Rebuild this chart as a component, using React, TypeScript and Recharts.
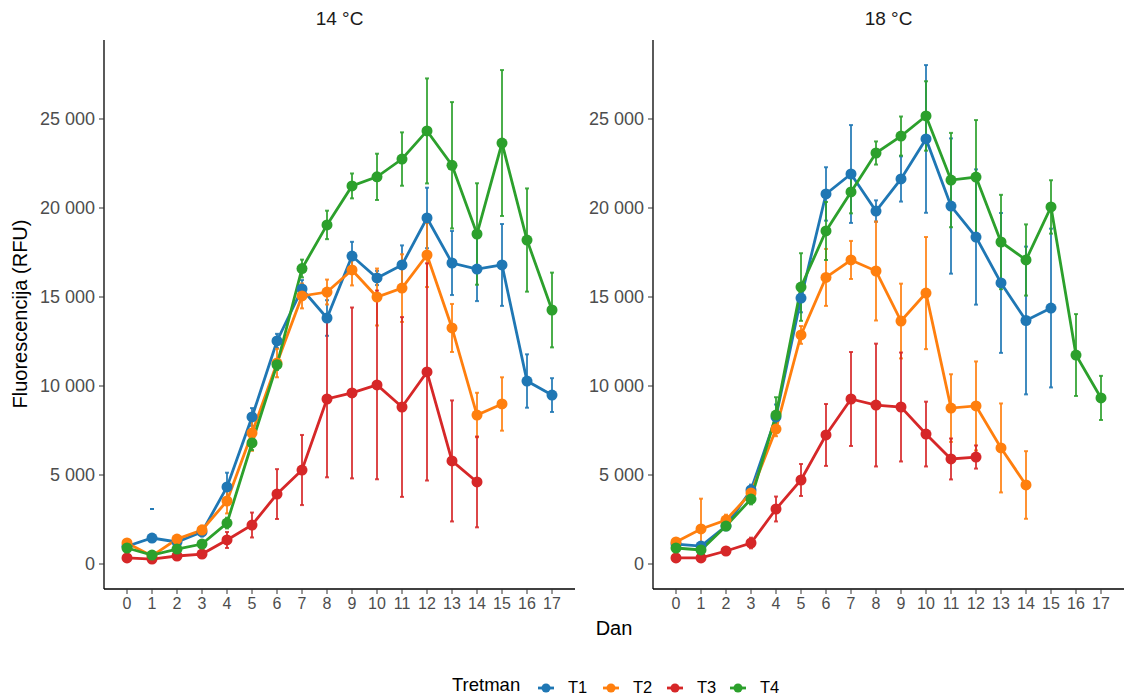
import { ErrorBar, Line, LineChart, XAxis, YAxis } from "recharts";

// Dan (day) 0..17
const days = [0, 1, 2, 3, 4, 5, 6, 7, 8, 9, 10, 11, 12, 13, 14, 15, 16, 17];
const yTicks = [0, 5000, 10000, 15000, 20000, 25000];

type Err = number | [number, number] | null;

// 14 °C
const t1_14 = [1000, 1460, 1240, 1800, 4330, 8260, 12530, 15450, 13820, 17300, 16070, 16800, 19440, 16910, 16570, 16800, 10280, 9490];
const t1e_14: Err[] = [150, [-1630, 1630], 200, 250, 800, 500, 400, 500, 1000, 800, 400, 1100, 1700, 1800, 1800, 2300, 1500, 950];
const t2_14 = [1180, 450, 1400, 1910, 3540, 7360, 11290, 15060, 15280, 16520, 15000, 15500, 17360, 13260, 8370, 8990, null, null];
const t2e_14: Err[] = [150, 100, 200, 250, 700, 1000, 800, 700, 700, 870, 1600, 1900, 1800, 1350, 1250, 1500, null, null];
const t3_14 = [340, 280, 450, 560, 1350, 2190, 3930, 5280, 9270, 9610, 10060, 8820, 10790, 5790, 4610, null, null, null];
const t3e_14: Err[] = [100, 80, 100, 120, 450, 700, 1400, 1970, 4400, 4800, 5300, 5050, 6100, 3400, 2550, null, null, null];
const t4_14 = [900, 500, 840, 1120, 2300, 6800, 11200, 16600, 19050, 21240, 21750, 22750, 24330, 22400, 18540, 23650, 18200, 14270];
const t4e_14: Err[] = [100, 100, 150, 150, 300, 400, 300, 500, 800, 700, 1300, 1500, 2950, 3550, 2850, 4100, 2900, 2100];

// 18 °C
const t1_18 = [1120, 1010, 2130, 4160, 8260, 14940, 20790, 21910, 19830, 21630, 23880, 20110, 18370, 15790, 13680, 14380, null, null];
const t1e_18: Err[] = [150, 150, 200, 300, 700, 800, 1500, 2750, 600, 1270, 4150, 3800, 3800, 3930, 4150, 4460, null, null];
const t2_18 = [1240, 1970, 2470, 3990, 7580, 12870, 16100, 17080, 16460, 13650, 15220, 8760, 8880, 6520, 4440, null, null, null];
const t2e_18: Err[] = [150, 1700, 300, 300, 400, 500, 1600, 1070, 2780, 2100, 3150, 1900, 2500, 2500, 1900, null, null, null];
const t3_18 = [340, 340, 730, 1180, 3090, 4720, 7250, 9270, 8930, 8820, 7300, 5900, 6010, null, null, null, null, null];
const t3e_18: Err[] = [80, 80, 100, 300, 700, 900, 1740, 2640, 3450, 3060, 1820, 1150, 650, null, null, null, null, null];
const t4_18 = [900, 790, 2130, 3650, 8370, 15560, 18710, 20900, 23090, 24040, 25170, 21570, 21740, 18090, 17080, 20060, 11740, 9330];
const t4e_18: Err[] = [100, 100, 200, 300, 1000, 1900, 1630, 1200, 650, 1100, 1950, 2650, 3200, 2650, 2000, 1500, 2300, 1240];

const series = [
  { key: "t1", name: "T1", color: "#1f77b4" },
  { key: "t2", name: "T2", color: "#ff7f0e" },
  { key: "t3", name: "T3", color: "#d62728" },
  { key: "t4", name: "T4", color: "#2ca02c" },
];

const font = "'Liberation Sans', Arial, sans-serif";

function buildRows(vals: (number | null)[][], errs: Err[][]) {
  return days.map((d, i) => {
    const row: Record<string, any> = { day: d };
    series.forEach((s, k) => {
      row[s.key] = vals[k][i];
      row[s.key + "e"] = errs[k][i];
    });
    return row;
  });
}

const rows14 = buildRows([t1_14, t2_14, t3_14, t4_14], [t1e_14, t2e_14, t3e_14, t4e_14]);
const rows18 = buildRows([t1_18, t2_18, t3_18, t4_18], [t1e_18, t2e_18, t3e_18, t4e_18]);

const fmt = (v: number) => String(v).replace(/\B(?=(\d{3})+(?!\d))/g, " ");

function Panel({ rows, left, width }: { rows: any[]; left: number; width: number }) {
  return (
    <div style={{ position: "absolute", left, top: 0 }}>
      <LineChart width={width} height={620} data={rows} margin={{ top: 40, right: width - 575, bottom: 0, left: 0 }}>
        <XAxis
          dataKey="day"
          type="number"
          domain={[-0.92, 17.92]}
          ticks={days}
          allowDataOverflow
          height={31}
          tickSize={5}
          tickMargin={4}
          axisLine={{ stroke: "#000", strokeWidth: 1.3 }}
          tickLine={{ stroke: "#333" }}
          tick={{ fill: "#4d4d4d", fontSize: 16, fontFamily: font }}
          interval={0}
        />
        <YAxis
          type="number"
          domain={[-1404, 29438]}
          ticks={yTicks}
          allowDataOverflow
          width={104}
          tickSize={5}
          tickMargin={4}
          tickFormatter={fmt}
          axisLine={{ stroke: "#000", strokeWidth: 1.3 }}
          tickLine={{ stroke: "#333" }}
          tick={{ fill: "#4d4d4d", fontSize: 18, fontFamily: font }}
        />
        {series.map((s) => (
          <Line
            key={s.key}
            dataKey={s.key}
            stroke={s.color}
            strokeWidth={2.8}
            dot={{ r: 5.5, fill: s.color, stroke: s.color, strokeWidth: 0 }}
            activeDot={false}
            isAnimationActive={false}
          >
            <ErrorBar dataKey={s.key + "e"} direction="y" width={2} stroke={s.color} strokeWidth={2} strokeOpacity={0.85} />
          </Line>
        ))}
      </LineChart>
    </div>
  );
}

const legendKeyX = [538, 603, 667, 730];

export default function App() {
  return (
    <div style={{ position: "absolute", left: 0, top: 0, width: 1125, height: 697, overflow: "hidden", background: "#fff", fontFamily: font }}>
      <div style={{ position: "absolute", left: 104, width: 471, top: 8, textAlign: "center", fontSize: 19, color: "#1a1a1a" }}>14 °C</div>
      <div style={{ position: "absolute", left: 653, width: 471, top: 8, textAlign: "center", fontSize: 19, color: "#1a1a1a" }}>18 °C</div>
      <Panel rows={rows14} left={0} width={580} />
      <Panel rows={rows18} left={549} width={576} />
      <div
        style={{
          position: "absolute",
          left: 20,
          top: 314,
          transform: "translate(-50%, -50%) rotate(-90deg)",
          whiteSpace: "nowrap",
          fontSize: 20,
          color: "#000",
        }}
      >
        Fluorescencija (RFU)
      </div>
      <div style={{ position: "absolute", left: 0, width: 1228, top: 617, textAlign: "center", fontSize: 20, color: "#000" }}>Dan</div>
      <div style={{ position: "absolute", left: 452, top: 673, fontSize: 18.5, color: "#000", lineHeight: "24px" }}>Tretman</div>
      {series.map((s, i) => (
        <div key={s.key} style={{ position: "absolute", left: legendKeyX[i], top: 678, display: "flex", alignItems: "center" }}>
          <svg width={16} height={14}>
            <line x1={0} y1={7} x2={16} y2={7} stroke={s.color} strokeWidth={2.8} />
            <circle cx={8} cy={7} r={4.5} fill={s.color} />
          </svg>
          <span style={{ fontSize: 16.5, marginLeft: 14, color: "#000" }}>{s.name}</span>
        </div>
      ))}
    </div>
  );
}
